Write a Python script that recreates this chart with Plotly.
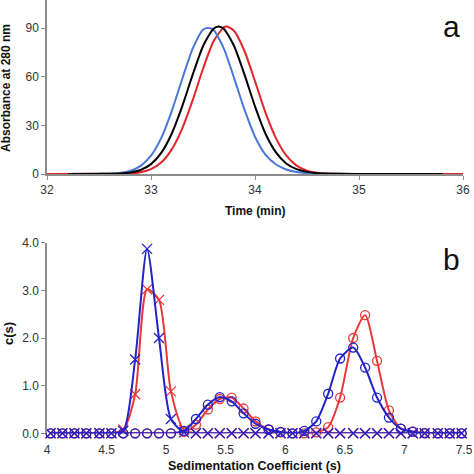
import plotly.graph_objects as go

# ---------- Panel a data (Time, min vs Absorbance at 280 nm) ----------
red_t = [32.0, 32.7, 32.8, 32.9, 33.0, 33.1, 33.2, 33.3, 33.4, 33.5, 33.6, 33.7, 33.73, 33.8, 33.9,
         34.0, 34.1, 34.2, 34.3, 34.4, 34.5, 34.6, 34.7, 34.8, 35.0, 36.0]
red_a = [0, 0.1, 0.3, 1.1, 3.0, 7.2, 15.2, 28.0, 45.4, 64.9, 81.7, 90.5, 91, 88.2, 75.7,
         57.2, 38.0, 22.3, 11.5, 5.2, 2.1, 0.7, 0.25, 0.1, 0, 0]

blue_t = [32.5, 32.6, 32.7, 32.8, 32.9, 33.0, 33.1, 33.2, 33.3, 33.4, 33.5, 33.55, 33.6, 33.7,
          33.8, 33.9, 34.0, 34.1, 34.2, 34.3, 34.4, 34.5, 34.7, 35.0]
blue_a = [0.1, 0.2, 0.6, 1.9, 5.0, 11.3, 22.4, 38.9, 58.6, 77.1, 89, 90, 89, 77.5,
          59, 39.5, 23, 12, 6, 2.8, 1.2, 0.5, 0.1, 0]

black_t = [32.2, 32.6, 32.7, 32.8, 32.9, 33.0, 33.1, 33.2, 33.3, 33.4, 33.5, 33.6, 33.65, 33.7,
           33.8, 33.9, 34.0, 34.1, 34.2, 34.3, 34.4, 34.5, 34.6, 34.8, 35.2, 35.8]
black_a = [0, 0.1, 0.3, 0.9, 2.5, 6.1, 13.2, 25.0, 41.7, 61.1, 78.8, 89.6, 91, 89.6,
           78.8, 61.1, 41.7, 25.0, 13.5, 6.5, 3.0, 1.3, 0.5, 0.1, 0, 0]

# ---------- Panel b data (Sedimentation coefficient vs c(s)) ----------
s_grid = [4.03, 4.13, 4.23, 4.33, 4.44, 4.54, 4.64, 4.74, 4.84, 4.94, 5.04, 5.15, 5.25, 5.35,
          5.45, 5.55, 5.65, 5.75, 5.86, 5.96, 6.06, 6.16, 6.26, 6.36, 6.46, 6.57, 6.67, 6.77,
          6.87, 6.97, 7.07, 7.17, 7.28, 7.38, 7.48]
red_x_cs = [0, 0, 0, 0, 0, 0, 0.08, 0.82, 3.02, 2.80, 0.88, 0.07, 0, 0,
            0, 0, 0, 0, 0, 0, 0, 0, 0, 0, 0, 0, 0, 0,
            0, 0, 0, 0, 0, 0, 0]
blue_x_cs = [0, 0, 0, 0, 0, 0, 0.05, 1.55, 3.87, 2.00, 0.30, 0.02, 0, 0,
             0, 0, 0, 0, 0, 0, 0, 0, 0, 0, 0, 0, 0, 0,
             0, 0, 0, 0, 0, 0, 0]
red_o_cs = [0, 0, 0, 0, 0, 0, 0, 0, 0, 0, 0, 0.03, 0.18, 0.50,
            0.72, 0.75, 0.52, 0.25, 0.08, 0.02, 0, 0, 0.02, 0.13, 0.75, 2.00, 2.48, 1.52,
            0.48, 0.10, 0.04, 0.01, 0, 0, 0]
blue_o_cs = [0, 0, 0, 0, 0, 0, 0, 0, 0, 0, 0, 0.05, 0.30, 0.60,
             0.76, 0.67, 0.42, 0.20, 0.08, 0.03, 0, 0.05, 0.25, 0.83, 1.57, 1.80, 1.38, 0.75,
             0.33, 0.10, 0.03, 0, 0, 0, 0]

a_xticks = [32, 33, 34, 35, 36]
a_yticks = [0, 30, 60, 90]
b_xticks = [4, 4.5, 5, 5.5, 6, 6.5, 7, 7.5]
b_xtick_text = ["4", "4.5", "5", "5.5", "6", "6.5", "7", "7.5"]
b_yticks = [0, 1, 2, 3, 4]

W = H = 474
FONT = "Liberation Sans, Arial, sans-serif"
RED_A = "#e0262b"
BLUE_A = "#4a78d8"
RED_B = "#e8383a"
BLUE_B = "#2222c8"

fig = go.Figure()

# panel a
for t, a, c in [(red_t, red_a, RED_A), (blue_t, blue_a, BLUE_A), (black_t, black_a, "#000000")]:
    fig.add_trace(go.Scatter(x=t, y=a, mode="lines", line=dict(color=c, width=2, shape="spline", smoothing=0.6),
                             xaxis="x", yaxis="y", cliponaxis=False, showlegend=False, hoverinfo="skip"))

# panel b
def add_b(y, color, symbol, size):
    fig.add_trace(go.Scatter(x=s_grid, y=y, mode="lines+markers",
                             line=dict(color=color, width=2, shape="spline", smoothing=0.7),
                             marker=dict(symbol=symbol, size=size, color=color,
                                         line=dict(color=color, width=1.3)),
                             xaxis="x2", yaxis="y2", cliponaxis=False, showlegend=False, hoverinfo="skip"))

add_b(red_o_cs, RED_B, "circle-open", 9)
add_b(red_x_cs, RED_B, "x-thin-open", 10)
add_b(blue_o_cs, BLUE_B, "circle-open", 9)
add_b(blue_x_cs, BLUE_B, "x-thin-open", 10)

axis_common = dict(showgrid=False, zeroline=False, automargin=False,
                   tickfont=dict(family=FONT, size=12, color="#333333"),
                   linecolor="#8c8c8c", linewidth=1.5, tickcolor="#8c8c8c", ticklen=4)

fig.update_layout(
    width=W, height=H,
    margin=dict(l=0, r=0, t=0, b=0, pad=0),
    paper_bgcolor="white", plot_bgcolor="white",
    xaxis=dict(domain=[47 / W, 463 / W], range=[32, 36], tickvals=a_xticks, anchor="y",
               showline=True, ticks="outside", **axis_common),
    yaxis=dict(domain=[1 - 174 / H, 1], range=[0, 107.3], tickvals=a_yticks, anchor="x",
               showline=True, ticks="outside", **axis_common),
    xaxis2=dict(domain=[47 / W, 464 / W], range=[4, 7.5], tickvals=b_xticks, ticktext=b_xtick_text,
                anchor="y2", showline=False, ticks="", ticklabelstandoff=8, **axis_common),
    yaxis2=dict(domain=[1 - 433.3 / H, 1 - 242.7 / H], range=[0, 4], tickvals=b_yticks, tickformat=".1f",
                anchor="x2", showline=True, ticks="outside", **axis_common),
    annotations=[
        dict(text="<b>Absorbance at 280 nm</b>", x=6 / W, y=1 - 88 / H, xref="paper", yref="paper",
             xanchor="center", yanchor="middle",
             textangle=-90, showarrow=False, font=dict(family=FONT, size=12, color="#111111")),
        dict(text="<b>Time (min)</b>", x=255 / W, y=1 - 211 / H, xref="paper", yref="paper",
             xanchor="center", yanchor="middle",
             showarrow=False, font=dict(family=FONT, size=12, color="#111111")),
        dict(text="<b>c(s)</b>", x=8 / W, y=1 - 333 / H, xref="paper", yref="paper",
             xanchor="center", yanchor="middle",
             textangle=-90, showarrow=False, font=dict(family=FONT, size=13, color="#111111")),
        dict(text="<b>Sedimentation Coefficient (s)</b>", x=254 / W, y=1 - 466 / H, xref="paper", yref="paper",
             xanchor="center", yanchor="middle",
             showarrow=False, font=dict(family=FONT, size=12.5, color="#111111")),
        dict(text="a", x=451 / W, y=1 - 27 / H, xref="paper", yref="paper",
             xanchor="center", yanchor="middle",
             showarrow=False, font=dict(family=FONT, size=30, color="#111111")),
        dict(text="b", x=451 / W, y=1 - 259 / H, xref="paper", yref="paper",
             xanchor="center", yanchor="middle",
             showarrow=False, font=dict(family=FONT, size=30, color="#111111")),
    ],
)

fig.write_html("out.html", config={"displayModeBar": False},
               post_script="document.body.style.margin='0';document.body.style.overflow='hidden';")
